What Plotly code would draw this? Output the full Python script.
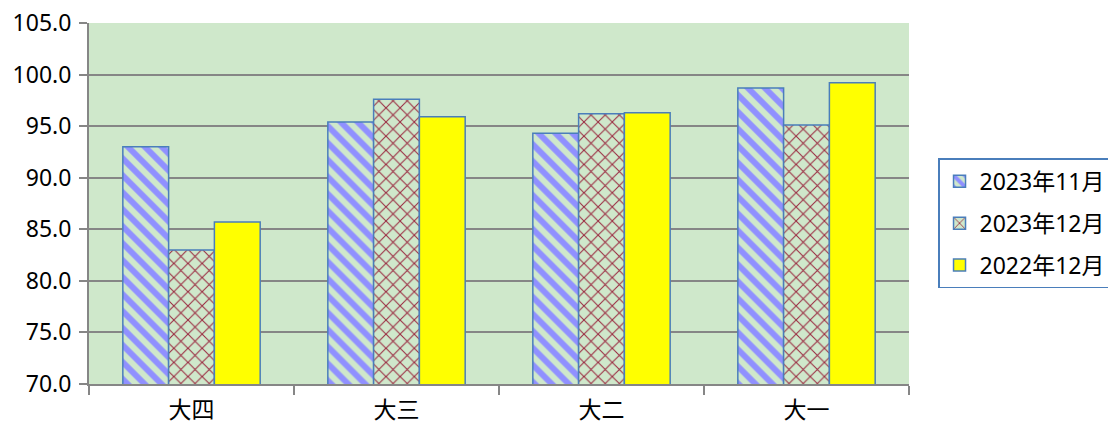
import plotly.graph_objects as go

categories = ["大四", "大三", "大二", "大一"]
series_names = ["2023年11月", "2023年12月", "2022年12月"]
nov_2023 = [93.0, 95.4, 94.3, 98.7]
dec_2023 = [83.0, 97.6, 96.2, 95.1]
dec_2022 = [85.7, 95.9, 96.3, 99.2]
y_ticks = [70, 75, 80, 85, 90, 95, 100, 105]

BG = "#cfe8cb"
EDGE = "#4a7ebb"
GRID = "#868686"
FONT = "Noto Sans, Noto Sans CJK SC, sans-serif"

fig = go.Figure()
fig.add_trace(go.Bar(
    x=categories, y=nov_2023, name=series_names[0], legendgroup="a",
    marker=dict(color=BG, line=dict(color=EDGE, width=1.5),
                pattern=dict(shape="\\", fgcolor="#9090ff", bgcolor=BG, size=12, solidity=0.5,
                             fgopacity=1)),
))
fig.add_trace(go.Bar(
    x=categories, y=dec_2023, name=series_names[1], legendgroup="b",
    marker=dict(color=BG, line=dict(color=EDGE, width=1.5),
                pattern=dict(shape="x", fgcolor="#9a2a40", bgcolor=BG, size=10, solidity=0.2,
                             fgopacity=1)),
))
fig.add_trace(go.Bar(
    x=categories, y=dec_2022, name=series_names[2], legendgroup="c",
    marker=dict(color="#ffff00", line=dict(color=EDGE, width=1.5)),
))

fig.update_layout(
    width=1170, height=429,
    margin=dict(l=89, r=261, t=23, b=45),
    paper_bgcolor="white", plot_bgcolor=BG,
    barmode="group", bargap=0.33, bargroupgap=0,
    font=dict(family=FONT, size=23, color="black"),
    legend=dict(x=1.0354, y=0.445, xanchor="left", yanchor="middle",
                bordercolor=EDGE, borderwidth=1.5, bgcolor="white",
                font=dict(size=23), tracegroupgap=9),
    showlegend=True,
)
fig.update_yaxes(
    range=[70, 105], tickvals=y_ticks, ticktext=[f"{v:.1f}" for v in y_ticks],
    ticklabeloverflow="allow", automargin=False, ticklabelstandoff=3,
    showgrid=True, gridcolor=GRID, gridwidth=2,
    showline=True, linecolor=GRID, linewidth=2,
    ticks="outside", ticklen=8, tickcolor=GRID, tickwidth=2,
    zeroline=False,
)
fig.update_xaxes(
    showgrid=False, showline=True, linecolor=GRID, linewidth=2, automargin=False,
    ticks="outside", tickson="boundaries", ticklen=9, tickcolor=GRID, tickwidth=2,
    ticklabelstandoff=4,
    tickfont=dict(size=23),
)
fig.write_html(
    "out.html",
    config={"displayModeBar": False},
    post_script="document.body.style.margin='0';document.body.style.overflow='hidden';",
)
